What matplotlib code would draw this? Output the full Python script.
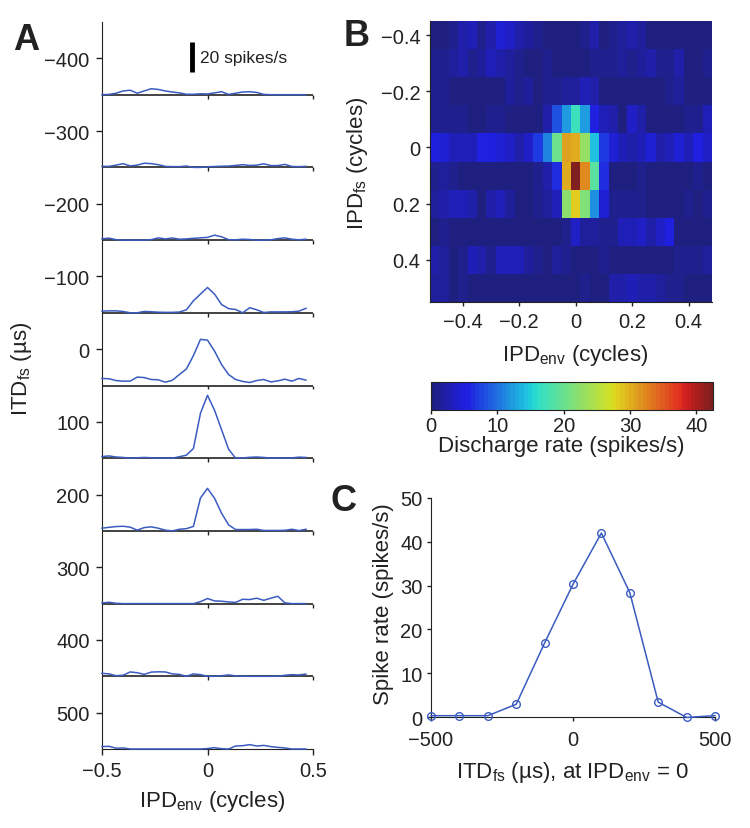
import numpy as np
import matplotlib

matplotlib.use("Agg")

import matplotlib.pyplot as plt
from matplotlib.colors import ListedColormap

plt.rcParams["font.family"] = ["Liberation Sans", "DejaVu Sans"]
plt.rcParams["mathtext.fontset"] = "custom"
plt.rcParams["mathtext.rm"] = "Liberation Sans"
plt.rcParams["mathtext.it"] = "Liberation Sans:italic"
plt.rcParams["font.size"] = 14.5
plt.rcParams["text.color"] = "#222222"
plt.rcParams["xtick.color"] = "#222222"
plt.rcParams["ytick.color"] = "#222222"
plt.rcParams["axes.edgecolor"] = "#222222"

# ITD of the carrier fine structure (us), one row per value
itd_rows = [-400, -300, -200, -100, 0, 100, 200, 300, 400, 500]

# IPD of the envelope (cycles), 30 steps
ipd_env = [-0.5 + k / 30 for k in range(30)]

# discharge rate (spikes/s), rows = itd_rows, columns = ipd_env
rates = [
    [0, 0.2, 1, 2.5, 3, 1, 2.5, 4, 3.5, 2.5, 1.8, 1.2, 0.3, 0.3, 0.6,
     0.5, 1.2, 2, 0.2, 1, 1.8, 2, 1.5, 0.2, 0, 0, 0, 0, 0, 0],
    [0.7, 0.7, 1.5, 2.5, 1, 1.5, 2.8, 2.5, 1.8, 0.7, 0.5, 0.5, 0.9, 0, 0,
     0.4, 0.6, 0.8, 0.9, 1.3, 1.8, 1.3, 1.5, 2.4, 1.2, 1.2, 2, 0.6, 0.5, 0.7],
    [0.9, 1.3, 0.3, 0, 0, 0, 0, 0.3, 1.5, 0.8, 1.4, 0.6, 0.8, 1.2, 1.5,
     1.8, 3.3, 2.2, 0.3, 0.2, 0.6, 0.4, 0, 0, 0.2, 1, 1.5, 0.6, 0.2, 0.6],
    [1.1, 1.3, 1.3, 0.9, 0, 0, 0.9, 0.7, 0.4, 0.3, 0.3, 0.5, 2, 8, 12.5,
     16.9, 12.5, 5.5, 2.8, 2.2, 0, 3.4, 2, 0.2, 0.6, 0.6, 0.6, 0.7, 1.1, 3],
    [4.7, 4.5, 3.3, 2.9, 2.9, 5.6, 5.3, 4, 3.8, 2.2, 3.5, 7.3, 11, 20, 30.8,
     30.3, 23, 14, 7.3, 4, 2.7, 2, 3.3, 4, 2.4, 3.1, 4.2, 2.9, 4.7, 3.6],
    [1.1, 1.5, 0.8, 0.5, 0, 0.3, 0.5, 0.3, 0, 0.1, 0, 1, 2, 6.5, 30,
     42, 32, 19, 6, 0, 0.2, 0.6, 0.8, 0.5, 0, 0.3, 0, 0.2, 0.7, 0.5],
    [1.8, 2.4, 2.9, 3.1, 2.5, 0.5, 2.2, 2.7, 1.8, 0.5, 0, 1.1, 1.5, 3, 22,
     28.4, 21.8, 11.8, 4, 0.9, 0.9, 0.9, 1.1, 0.3, 0.3, 0.3, 0.4, 1.1, 0.2, 1.1],
    [0.4, 0.9, 0.2, 0, 0, 0, 0, 0, 0, 0, 0, 0, 0, 0, 1.3,
     3.4, 1.8, 1.6, 1.1, 0.8, 2.9, 2.7, 3.6, 2.2, 3.6, 4.9, 0.5, 0, 0, 0],
    [2, 1.6, 0.4, 0.7, 2.9, 2.4, 1.3, 2.8, 3, 2.9, 1.6, 1.3, 0, 1.6, 1.1,
     0, 0, 0.4, 0.9, 0.3, 0, 0, 0, 0, 0, 0, 0.7, 1.1, 0.9, 1.5],
    [1.6, 1.8, 0.5, 0.7, 0, 0, 0, 0, 0, 0, 0, 0, 0, 0, 0,
     0.3, 0.9, 0.2, 0, 2, 2.2, 2.9, 2, 2.4, 1.6, 1.1, 0.7, 0, 0, 0],
]

# panel C: rate at IPD_env = 0
itd_c = [-500, -400, -300, -200, -100, 0, 100, 200, 300, 400, 500]
rate_c = [0.3, 0.3, 0.3, 2.9, 16.9, 30.3, 42.0, 28.4, 3.4, -0.1, 0.3]

blue = "#3a5cc0"
dark = "#222222"
W, H = 750, 829
LAB = 16


def px(x, y):
    return x / W, 1 - y / H


def fmt(v):
    return f"{v:g}".replace("-", "\u2212")


fig = plt.figure(figsize=(7.5, 8.29), dpi=100)

# ---------- A ----------
axA = fig.add_axes([102 / W, 1 - 750 / H, 211 / W, 727 / H])
axA.set_xlim(-0.5, 0.5)
axA.set_ylim(550, -450)
scale = 2.06  # us per spike/s on the stacked plot
for i, itd in enumerate(itd_rows):
    base = itd + 50
    if i < len(itd_rows) - 1:
        axA.hlines(base, -0.5, 0.5, color=dark, lw=1.2, zorder=2, clip_on=False)
        axA.vlines([0, 0.5], base, base + 5.5, color=dark, lw=1.0, zorder=2, clip_on=False)
    axA.plot(ipd_env, base - np.array(rates[i]) * scale, color=blue, lw=1.1,
             zorder=3, clip_on=False)
for s in ["top", "right"]:
    axA.spines[s].set_visible(False)
axA.set_yticks(itd_rows)
axA.set_yticklabels([fmt(v) for v in itd_rows])
axA.set_xticks([-0.5, 0, 0.5])
axA.set_xticklabels([fmt(v) for v in [-0.5, 0, 0.5]])
axA.tick_params(length=4, width=1.0, pad=5)
# scale bar
sb_x, sb_y = -0.073, -381
axA.plot([sb_x, sb_x], [sb_y, sb_y - 20 * scale], color="k", lw=3.5,
         solid_capstyle="butt")
axA.text(sb_x + 0.038, sb_y - 10 * scale, "20 spikes/s", fontsize=12.5,
         va="center", ha="left")

fig.text(*px(22, 369), "ITD$_{\\mathrm{fs}}$ (\u00b5s)", rotation=90,
         ha="center", va="center", fontsize=LAB)
fig.text(*px(212, 802), "IPD$_{\\mathrm{env}}$ (cycles)", ha="center",
         va="center", fontsize=LAB)

# ---------- B ----------
axB = fig.add_axes([430 / W, 1 - 303 / H, 282 / W, 281 / H])
xe = np.array(ipd_env + [ipd_env[-1] + 1 / 30]) - 1 / 60
ye = np.array(itd_rows + [600]) / 1000 - 0.05
jet = plt.get_cmap("jet", 64)(np.arange(64))
jet[:, :3] = 0.12 + 0.76 * jet[:, :3]
cmap = ListedColormap(jet)
mesh = axB.pcolormesh(xe, ye, np.array(rates), cmap=cmap, vmin=0, vmax=42.5,
                      shading="flat")
axB.set_xlim(xe[0], xe[-1])
axB.set_ylim(ye[-1], ye[0])
bt = [-0.4, -0.2, 0, 0.2, 0.4]
axB.set_xticks(bt)
axB.set_xticklabels([fmt(v) for v in bt])
axB.set_yticks(bt)
axB.set_yticklabels([fmt(v) for v in bt])
axB.tick_params(length=3, width=1.0, pad=4)
for s in ["top", "right"]:
    axB.spines[s].set_visible(False)
fig.text(*px(358, 163), "IPD$_{\\mathrm{fs}}$ (cycles)", rotation=90,
         ha="center", va="center", fontsize=LAB)
fig.text(*px(575, 355), "IPD$_{\\mathrm{env}}$ (cycles)", ha="center",
         va="center", fontsize=LAB)

cax = fig.add_axes([431 / W, 1 - 411 / H, 282 / W, 28 / H])
cb = fig.colorbar(mesh, cax=cax, orientation="horizontal")
cb.set_ticks([0, 10, 20, 30, 40])
cb.ax.tick_params(length=3, width=1.0, pad=1, labelsize=14.5)
cb.outline.set_linewidth(0.8)
fig.text(*px(561, 447), "Discharge rate (spikes/s)", ha="center",
         va="center", fontsize=LAB)

# ---------- C ----------
axC = fig.add_axes([431 / W, 1 - 718 / H, 284 / W, 219 / H])
axC.plot(itd_c, rate_c, color=blue, lw=1.1, marker="o", ms=5.5, mfc="none",
         mew=1.0, clip_on=False, zorder=3)
axC.set_xlim(-500, 500)
axC.set_ylim(0, 50)
axC.set_xticks([-500, 0, 500])
axC.set_xticklabels([fmt(v) for v in [-500, 0, 500]])
axC.set_yticks([0, 10, 20, 30, 40, 50])
for s in ["top", "right"]:
    axC.spines[s].set_visible(False)
axC.tick_params(axis="y", length=3, width=1.0, pad=3)
axC.tick_params(axis="x", length=3, width=1.0, pad=6)
fig.text(*px(383, 604), "Spike rate (spikes/s)", rotation=90, ha="center",
         va="center", fontsize=LAB)
fig.text(*px(572, 773), "ITD$_{\\mathrm{fs}}$ (\u00b5s), at IPD$_{\\mathrm{env}}$ = 0",
         ha="center", va="center", fontsize=LAB)

# panel letters
for lab, (x, y) in zip("ABC", [(26, 40), (357, 37), (344, 502)]):
    fig.text(*px(x, y), lab, fontsize=26, fontweight="bold", ha="center",
             va="center")

fig.savefig("out.png", dpi=100)
